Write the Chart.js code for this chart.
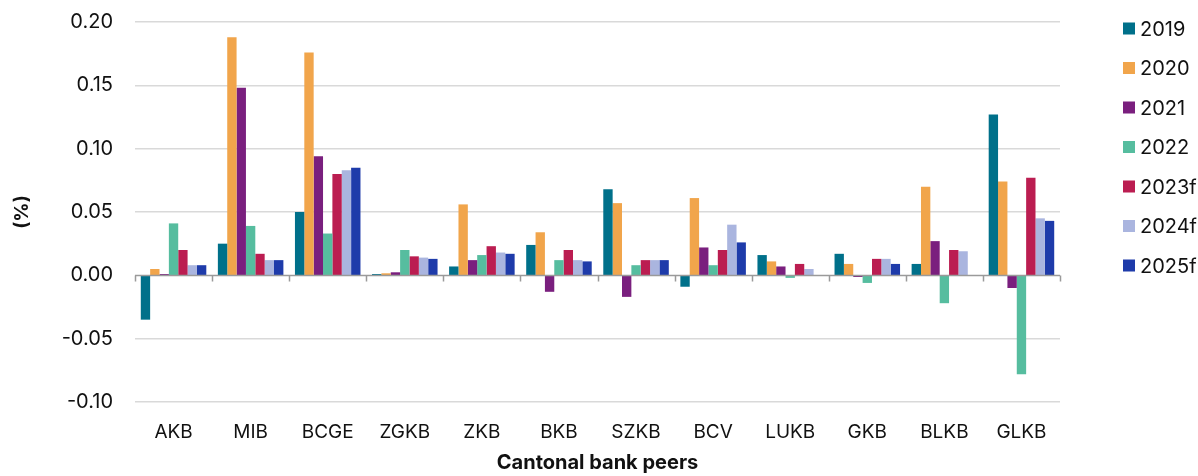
<!DOCTYPE html>
<html><head><meta charset="utf-8">
<script src="https://cdn.jsdelivr.net/npm/chart.js@4"></script>
<style>html,body{margin:0;padding:0;background:#fff}#wrap{position:relative;width:1198px;height:476px}</style>
</head><body><div id="wrap"><canvas id="c"></canvas></div>
<script>
const categories = ['AKB','MIB','BCGE','ZGKB','ZKB','BKB','SZKB','BCV','LUKB','GKB','BLKB','GLKB'];
const seriesLabels = ['2019','2020','2021','2022','2023f','2024f','2025f'];
const v2019  = [-0.035, 0.025, 0.050, 0.001, 0.007, 0.024, 0.068, -0.009, 0.016, 0.017, 0.009, 0.127];
const v2020  = [0.005, 0.188, 0.176, 0.0016, 0.056, 0.034, 0.057, 0.061, 0.011, 0.009, 0.070, 0.074];
const v2021  = [0.001, 0.148, 0.094, 0.0024, 0.012, -0.013, -0.017, 0.022, 0.007, -0.0013, 0.027, -0.010];
const v2022  = [0.041, 0.039, 0.033, 0.020, 0.016, 0.012, 0.008, 0.008, -0.002, -0.006, -0.022, -0.078];
const v2023f = [0.020, 0.017, 0.080, 0.015, 0.023, 0.020, 0.012, 0.020, 0.009, 0.013, 0.020, 0.077];
const v2024f = [0.008, 0.012, 0.083, 0.014, 0.018, 0.012, 0.012, 0.040, 0.005, 0.013, 0.019, 0.045];
const v2025f = [0.008, 0.012, 0.085, 0.013, 0.017, 0.011, 0.012, 0.026, 0, 0.009, 0, 0.043];
const seriesColors = ['#00708a','#f1a54b','#7a1f7e','#56bd9f','#bb1d51','#aab5df','#1e3baa'];
const yMin = -0.10, yMax = 0.20, yStep = 0.05;
const yTitle = '(%)';
const xTitle = 'Cantonal bank peers';

const allValues = [v2019, v2020, v2021, v2022, v2023f, v2024f, v2025f];
const FONT = 'Inter';

const customPlugin = {
  id: 'custom',
  afterDatasetsDraw(chart) {
    const ctx = chart.ctx, x = chart.scales.x, y = chart.scales.y;
    const y0 = Math.round(y.getPixelForValue(0)) + 0.5;
    ctx.save();
    ctx.strokeStyle = '#9a9a9a';
    ctx.lineWidth = 1.5;
    ctx.beginPath();
    ctx.moveTo(chart.chartArea.left, y0);
    ctx.lineTo(chart.chartArea.right, y0);
    const n = categories.length;
    const step = x.getPixelForValue(1) - x.getPixelForValue(0);
    for (let i = 0; i <= n; i++) {
      const px = i < n ? x.getPixelForValue(i) - step / 2 : chart.chartArea.right;
      const xx = Math.round(px) + 0.5;
      ctx.moveTo(xx, y0);
      ctx.lineTo(xx, y0 + 6);
    }
    ctx.stroke();
    ctx.restore();
  },
  afterDraw(chart) {
    const ctx = chart.ctx;
    ctx.save();
    ctx.font = '20px ' + FONT;
    ctx.textBaseline = 'middle';
    ctx.textAlign = 'left';
    chart.data.datasets.forEach((ds, i) => {
      const cy = 28.5 + i * 39.5;
      ctx.fillStyle = ds.backgroundColor;
      ctx.fillRect(1123, cy - 6, 12, 12);
      ctx.fillStyle = '#111';
      ctx.fillText(ds.label, 1140, cy + 1);
    });
    ctx.restore();
  }
};

new Chart(document.getElementById('c'), {
  type: 'bar',
  data: {
    labels: categories,
    datasets: seriesLabels.map((l, i) => ({
      label: l,
      data: allValues[i],
      backgroundColor: seriesColors[i],
      borderWidth: 0,
      categoryPercentage: 0.85,
      barPercentage: 1.0
    }))
  },
  options: {
    responsive: true,
    maintainAspectRatio: false,
    animation: false,
    devicePixelRatio: 1,
    layout: { padding: { left: 0, right: 138, top: 22, bottom: 0 } },
    plugins: { legend: { display: false }, tooltip: { enabled: false } },
    scales: {
      x: {
        grid: { display: false, drawTicks: false },
        border: { display: false },
        ticks: { color: '#111', font: { family: FONT, size: 19 }, padding: 19, maxRotation: 0 },
        title: { display: true, text: xTitle, color: '#111', font: { family: FONT, size: 20, weight: 'bold' }, padding: { top: 0, bottom: 1 } },
        afterFit: s => { s.height = 74; s.paddingLeft = 0; s.paddingRight = 0; }
      },
      y: {
        min: yMin, max: yMax,
        grid: { color: c => Math.abs(c.tick.value) < 1e-9 ? 'rgba(0,0,0,0)' : '#d9d9d9', lineWidth: 1.5, drawTicks: false },
        border: { display: false },
        ticks: { stepSize: yStep, color: '#111', font: { family: FONT, size: 20 }, padding: 22, callback: v => v.toFixed(2) },
        title: { display: true, text: yTitle, color: '#111', font: { family: FONT, size: 19, weight: 'bold' }, padding: { top: 11, bottom: 0 } },
        afterFit: s => { s.width = 135; s.paddingTop = 0; s.paddingBottom = 0; }
      }
    }
  },
  plugins: [customPlugin]
});
</script></body></html>
